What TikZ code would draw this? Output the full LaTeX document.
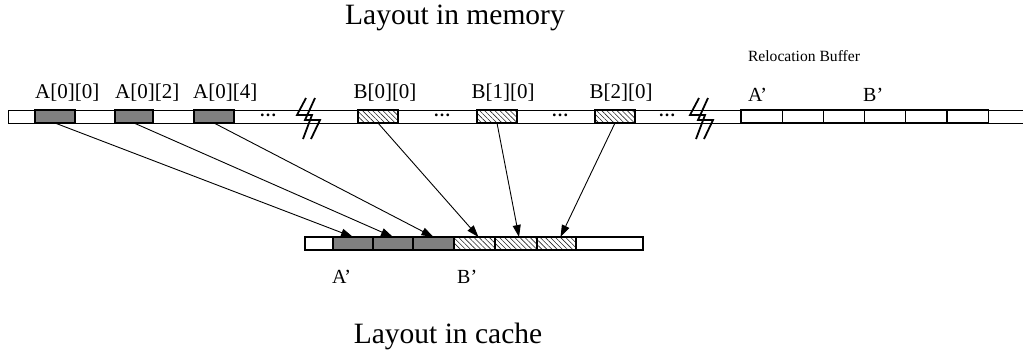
\documentclass[tikz,border=0pt]{standalone}
\usepackage{fontspec}
\setmainfont{Liberation Serif}
\usetikzlibrary{patterns.meta,arrows.meta}
\definecolor{cellgray}{RGB}{128,128,128}
\begin{document}
\begin{tikzpicture}[x=1pt,y=-1pt,
  cellbox/.style={draw, line width=1.2pt, minimum height=13pt, inner sep=0pt, outer sep=0pt, anchor=west},
  gcell/.style={cellbox, fill=cellgray},
  hcell/.style={cellbox, pattern={Lines[angle=-45,distance=3.6pt,line width=0.6pt]}, pattern color=black!85},
  wcell/.style={cellbox, fill=white},
  lbl/.style={font=\fontsize{21}{25}\selectfont, inner sep=0pt, anchor=base west},
  clbl/.style={font=\fontsize{21}{25}\selectfont, inner sep=0pt, anchor=base},
  plbl/.style={font=\fontsize{20}{24}\selectfont, inner sep=0pt, anchor=base west},
  title/.style={font=\fontsize{29.5}{35}\selectfont, inner sep=0pt, anchor=base},
  dotsl/.style={font=\fontsize{17}{20}\bfseries, inner sep=0pt, anchor=base},
  strip/.style={line width=1pt},
  conn/.style={line width=0.9pt, -{Triangle[length=12pt,width=8pt]}},
  brk/.pic={
    \draw[line width=1.8pt, line join=miter] (-4,-20) -- (-13,-3) -- (2,-3) -- (-7,21);
    \draw[line width=1.8pt, line join=miter] (5,-20) -- (-5,2) -- (10,2) -- (1,21);
  }
]
\useasboundingbox (0,0) rectangle (1023,354);

% titles
\node[title] (tmem) at (455,24) {Layout in memory};
\node[title] (tcache) at (448,343) {Layout in cache};

% top strip
\draw[strip] (1024,110) -- (8,110) -- (8,123) -- (1024,123);

% A cells
\node[gcell, minimum width=40pt] (a00) at (35,116.5) {};
\node[gcell, minimum width=38pt] (a02) at (115,116.5) {};
\node[gcell, minimum width=40pt] (a04) at (194,116.5) {};
% B cells
\node[hcell, minimum width=40pt] (b00) at (358,116.5) {};
\node[hcell, minimum width=40pt] (b10) at (477,116.5) {};
\node[hcell, minimum width=40pt] (b20) at (595,116.5) {};

% relocation buffer cells
\foreach \i in {0,...,5} {
  \node[wcell, minimum width=41.2pt] (r\i) at ({741+41.2*\i},116.5) {};
}

% labels top
\node[lbl] (la00) at (35,98) {A[0][0]};
\node[lbl] (la02) at (115,98) {A[0][2]};
\node[lbl] (la04) at (193,98) {A[0][4]};
\node[clbl] (lb00) at (385,98) {B[0][0]};
\node[clbl] (lb10) at (503,98) {B[1][0]};
\node[clbl] (lb20) at (621,98) {B[2][0]};
\node[font=\fontsize{15.6}{19}\selectfont, inner sep=0pt, anchor=base] (lrel) at (804,61) {Relocation Buffer};
\node[plbl] (lra) at (748,101) {A'};
\node[plbl] (lrb) at (863,101) {B'};

% dots
\node[dotsl] (d1) at (268,116) {\ldots};
\node[dotsl] (d2) at (442,116) {\ldots};
\node[dotsl] (d3) at (560,116) {\ldots};
\node[dotsl] (d4) at (667,116) {\ldots};

% breaks
\pic at (310,118) {brk};
\pic at (703,118) {brk};

% lower strip
\node[wcell, minimum width=28pt] (w1) at (305,243.5) {};
\node[gcell, minimum width=40pt] (g1) at (333,243.5) {};
\node[gcell, minimum width=40pt] (g2) at (373,243.5) {};
\node[gcell, minimum width=41pt] (g3) at (413,243.5) {};
\node[hcell, minimum width=41pt] (h1) at (454,243.5) {};
\node[hcell, minimum width=42pt] (h2) at (495,243.5) {};
\node[hcell, minimum width=39pt] (h3) at (537,243.5) {};
\node[wcell, minimum width=67pt] (w2) at (576,243.5) {};

\node[plbl] (lca) at (332,283) {A'};
\node[plbl] (lcb) at (457,283) {B'};

% connectors
\draw[conn] (a00.south) -- (g1.north);
\draw[conn] (a02.south) -- (g2.north);
\draw[conn] (a04.south) -- (g3.north);
\draw[conn] (b00.south) -- ([xshift=4pt]h1.north);
\draw[conn] (b10.south) -- ([xshift=3pt]h2.north);
\draw[conn] (b20.south) -- ([xshift=4pt]h3.north);
\end{tikzpicture}
\end{document}
